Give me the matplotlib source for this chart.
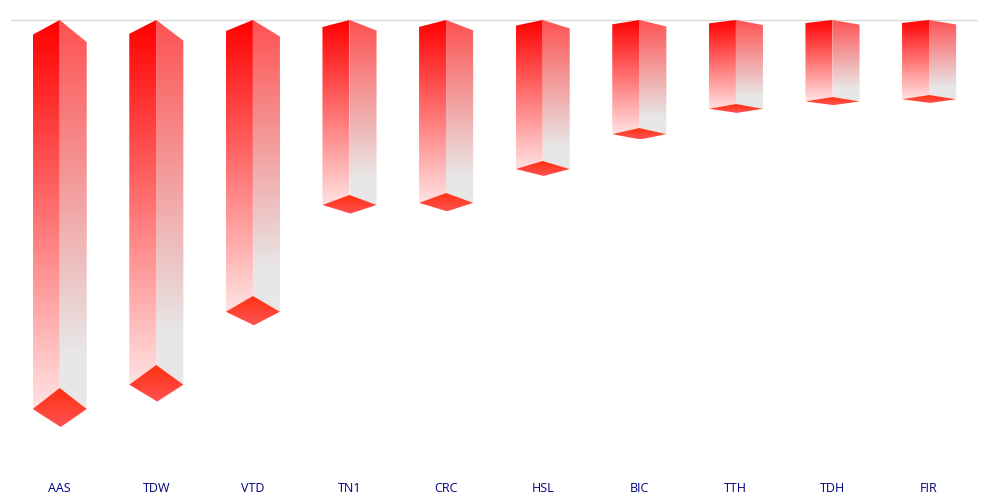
import numpy as np
import matplotlib
matplotlib.use("Agg")
import matplotlib.pyplot as plt
from matplotlib.colors import LinearSegmentedColormap
from matplotlib.patches import Polygon

categories = ["AAS", "TDW", "VTD", "TN1", "CRC", "HSL", "BIC", "TTH", "TDH", "FIR"]
values = [368, 345, 276, 175, 173, 141, 108, 84, 77, 75]

half_w = 0.28
# perspective offsets as a share of the bar's value
top_left, top_right = 0.04, 0.06
side_drop, front_drop = 0.057, 0.106

left_cmap = LinearSegmentedColormap.from_list("left", ["#ff0000", "#ffe2e2"])
right_cmap = LinearSegmentedColormap.from_list("right", [(0, "#ff5252"), (0.85, "#e8e6e6"), (1, "#e8e8e8")])
base_cmap = LinearSegmentedColormap.from_list("base", ["#ff3010", "#ff5252"])
grad = np.linspace(0, 1, 256).reshape(-1, 1)

plt.rcParams["font.family"] = ["Open Sans", "DejaVu Sans"]

W, H = 997, 500
fig = plt.figure(figsize=(W / 100, H / 100), dpi=100)
ax = fig.add_axes([11.4 / W, 1 - 470 / H, 966 / W, 450 / H])


def face(points, cmap, top, bottom, z):
    xs = [p[0] for p in points]
    im = ax.imshow(grad, cmap=cmap, vmin=0, vmax=1, aspect="auto", zorder=z,
                   extent=(min(xs), max(xs), bottom, top), interpolation="bilinear")
    im.set_clip_path(Polygon(points, closed=True, transform=ax.transData))


for i, v in enumerate(values):
    l, r = i - half_w, i + half_w
    side_y = v + v * side_drop
    right = [(i, 0), (r, v * top_right), (r, side_y), (i, v)]
    left = [(i, 0), (l, v * top_left), (l, side_y), (i, v)]
    base = [(i, v), (r, side_y), (i + 0.01, v + v * front_drop), (l, side_y)]
    face(right, right_cmap, 0, side_y, 3)
    face(left, left_cmap, 0, side_y, 3)
    face(base, base_cmap, v, v + v * front_drop, 4)

ax.set_xlim(-0.5, 9.5)
ax.set_ylim(450, 0)
ax.set_xticks(range(len(categories)))
ax.set_xticklabels(categories, color="#000080", fontsize=9)
ax.tick_params(axis="x", length=0, pad=9)
ax.set_yticks([])
for s in ["left", "right", "bottom"]:
    ax.spines[s].set_visible(False)
ax.spines["top"].set_color("#d9d9d9")
ax.spines["top"].set_linewidth(1)
ax.spines["top"].set_zorder(1)

fig.savefig("out.png", dpi=100)
